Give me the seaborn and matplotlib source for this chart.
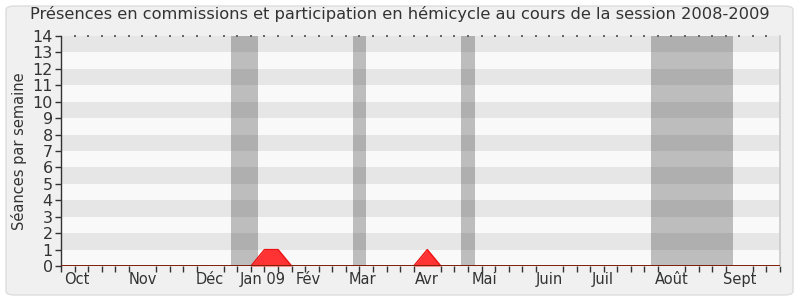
import numpy as np
import pandas as pd
import matplotlib
matplotlib.use("Agg")
import matplotlib.pyplot as plt
from matplotlib.patches import FancyBboxPatch
import seaborn as sns

# Weekly attendance, session 2008-2009 (week index from early October)
weeks = list(range(54))
seances = [0] * 54
seances[15] = 1
seances[16] = 1
seances[27] = 1

# Parliamentary recess periods (start week, end week)
vacances_debut = [12.5, 21.5, 29.5, 43.5]
vacances_fin = [14.5, 22.5, 30.5, 49.5]

# Month labels and their positions on the week axis
mois = ["Oct", "Nov", "Déc", "Jan 09", "Fév", "Mar", "Avr", "Mai",
        "Juin", "Juil", "Août", "Sept"]
mois_pos = [1.15, 6.0, 11.0, 14.9, 18.2, 22.2, 27.0, 31.2, 36.0, 39.9, 45.0, 50.0]

df = pd.DataFrame({"semaine": weeks, "seances": seances})

sns.set_theme(style="white")
plt.rcParams["font.family"] = ["DejaVu Sans"]
txt = "#333333"

fig = plt.figure(figsize=(8, 3), dpi=100, facecolor="white")
fig.patches.append(FancyBboxPatch((6 / 800, 5 / 300), 787 / 800, 289 / 300,
                                  boxstyle="round,pad=0,rounding_size=0.012",
                                  transform=fig.transFigure, facecolor="#f0f0f0",
                                  edgecolor="#dddddd", linewidth=1, zorder=-10))
ax = fig.add_axes([61 / 800, 1 - 266 / 300, 719 / 800, 230 / 300])
ax.set_facecolor("#f9f9f9")

ymax = 14
for k in range(ymax):
    ax.axhspan(k, k + 1, color="#e6e6e6" if k % 2 == 1 else "#f9f9f9",
               linewidth=0, zorder=0)

for a, b in zip(vacances_debut, vacances_fin):
    ax.axvspan(a, b, color="black", alpha=0.24, linewidth=0, zorder=1)

ax.fill_between(df["semaine"], df["seances"], color="#ff3333", linewidth=0, zorder=2)
sns.lineplot(data=df, x="semaine", y="seances", ax=ax, color="#ee1111",
             linewidth=1.0, zorder=3)
ax.axhline(0, color="#6b1a00", linewidth=1.2, zorder=4)

ax.set_xlim(0, 53)
ax.set_ylim(0, ymax)
ax.set_yticks(range(ymax + 1))
ax.set_yticklabels([str(v) for v in range(ymax + 1)], fontsize=11.5, color=txt)
ax.set_xticks(mois_pos)
ax.set_xticklabels(mois, fontsize=10.5, color=txt)
ax.set_xticks(np.arange(0, 54), minor=True)
ax.tick_params(axis="x", which="major", length=0, pad=4)
ax.tick_params(axis="x", which="minor", length=4, width=1, color="#333333",
               direction="out", bottom=True, top=False)
ax.tick_params(axis="y", length=4, width=1, color="#333333", direction="out",
               left=True, pad=2)
ax.set_xlabel("")
ax.set_ylabel("Séances par semaine", fontsize=10.5, color=txt, labelpad=4)

# dotted guide along the top edge, one dot per week
ax.scatter(np.arange(1, 53), [ymax] * 52, s=0.7, marker="s", color="#666666",
           linewidths=0, clip_on=False, zorder=5)

ax.spines["top"].set_visible(False)
ax.spines["left"].set_color("#333333")
ax.spines["left"].set_linewidth(1)
ax.spines["right"].set_color("#cccccc")
ax.spines["bottom"].set_visible(False)

fig.text(0.5, 1 - 14 / 300, "Présences en commissions et participation en hémicycle au cours de la session 2008-2009",
         ha="center", va="center", fontsize=11.7, color=txt)

fig.savefig("out.png", dpi=100, facecolor="white")
